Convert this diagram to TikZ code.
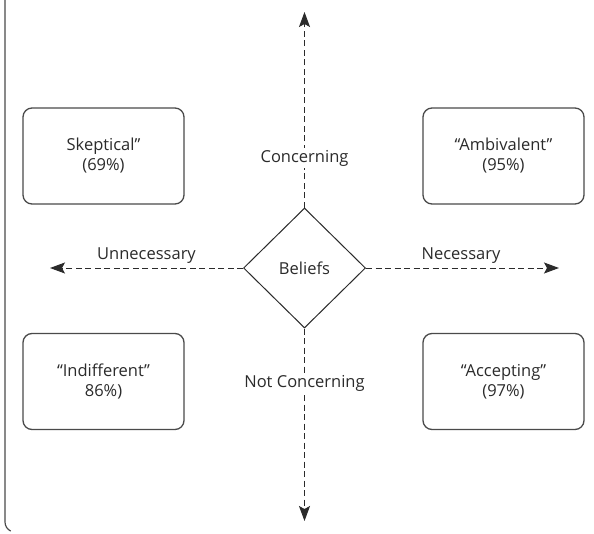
\documentclass[tikz,border=0pt]{standalone}
\usepackage{fontspec}
\setmainfont{Open Sans}
\usetikzlibrary{shapes.geometric,arrows.meta}
\definecolor{ink}{HTML}{2B2B2B}
\definecolor{boxline}{HTML}{4A4A4A}
\tikzset{
  quad/.style={draw=boxline, line width=1.3pt, rounded corners=9pt, minimum width=161pt, minimum height=96pt, inner sep=0pt, align=center, text=ink, font=\fontsize{16.5}{20}\selectfont},
  hub/.style={draw=ink, line width=1pt, shape=diamond, aspect=1, minimum width=122pt, minimum height=120pt, inner sep=0pt, text=ink, font=\fontsize{16.5}{17}\selectfont},
  axis/.style={draw=ink, line width=1pt, dash pattern=on 6pt off 3.5pt, -{Stealth[length=15pt,width=11pt,inset=3pt]}},
  lbl/.style={text=ink, font=\fontsize{16.5}{17}\selectfont, anchor=base, inner sep=2pt, fill=white}
}
\begin{document}
\begin{tikzpicture}[x=1pt,y=-1pt]
\useasboundingbox (0,0) rectangle (594,533);
\fill[white] (0,0) rectangle (594,533);
\draw[boxline, line width=1.2pt] (5,-2) -- (5,522) arc[start angle=180, end angle=115, radius=10];
\node[quad] (skep) at (103.5,156) {Skeptical”\\(69\%)};
\node[quad] (amb) at (503.5,156) {“Ambivalent”\\(95\%)};
\node[quad] (ind) at (103.5,381.5) {“Indifferent”\\86\%)};
\node[quad] (acc) at (503.5,381.5) {“Accepting”\\(97\%)};
\node[hub] (bel) at (304.5,268) {Beliefs};
\coordinate (top) at (304.5,12);
\coordinate (bot) at (304.5,521);
\coordinate (lft) at (50,268);
\coordinate (rgt) at (559,268);
\draw[axis] (bel.north) -- (top);
\draw[axis] (bel.south) -- (bot);
\draw[axis] (bel.west) -- (lft);
\draw[axis] (bel.east) -- (rgt);
\node[lbl] (conc) at (304.5,162) {Concerning};
\node[lbl] (nconc) at (304.5,387) {Not Concerning};
\node[lbl] (unn) at (146.5,259) {Unnecessary};
\node[lbl] (nec) at (461,259) {Necessary};
\end{tikzpicture}
\end{document}
